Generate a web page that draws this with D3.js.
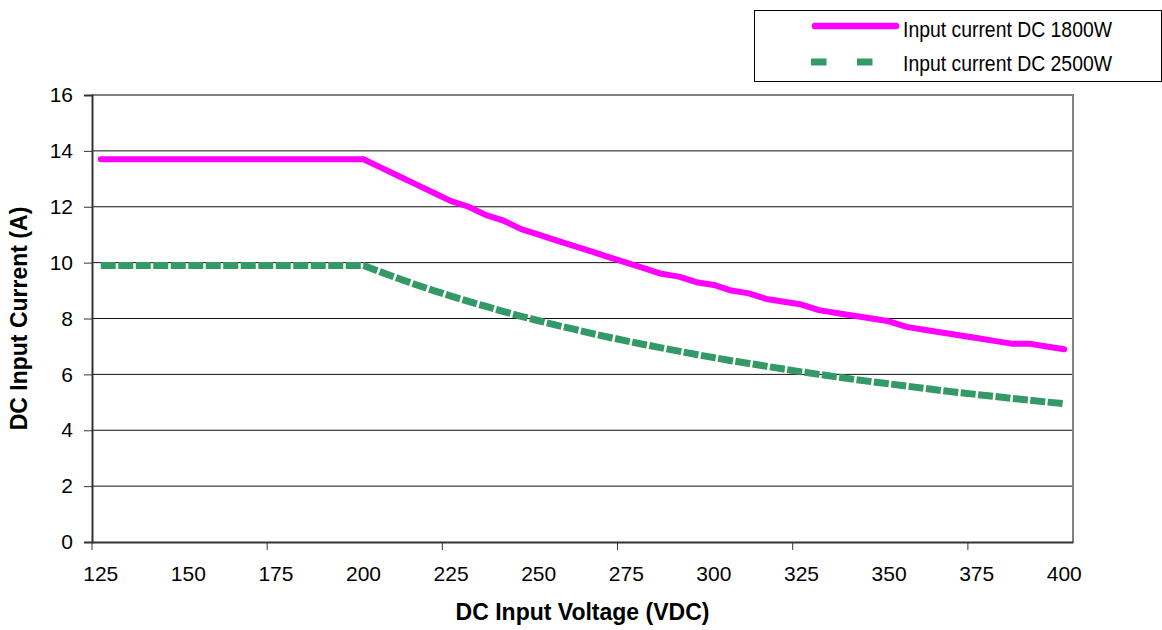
<!DOCTYPE html>
<html>
<head>
<meta charset="utf-8">
<script src="https://cdn.jsdelivr.net/npm/d3@7"></script>
<style>
  body { margin: 0; background: #fff; }
  svg { display: block; font-family: "Liberation Sans", Arial, sans-serif; }
</style>
</head>
<body>
<div id="chart"></div>
<script>
// categories (VDC), one every 5 V
const volts = [125, 130, 135, 140, 145, 150, 155, 160, 165, 170, 175, 180, 185, 190, 195, 200,
  205, 210, 215, 220, 225, 230, 235, 240, 245, 250, 255, 260, 265, 270, 275, 280, 285, 290, 295, 300,
  305, 310, 315, 320, 325, 330, 335, 340, 345, 350, 355, 360, 365, 370, 375, 380, 385, 390, 395, 400];

// Input current DC 1800W (A)
const current1800 = [13.7, 13.7, 13.7, 13.7, 13.7, 13.7, 13.7, 13.7, 13.7, 13.7, 13.7, 13.7, 13.7, 13.7, 13.7, 13.7,
  13.4, 13.1, 12.8, 12.5, 12.2, 12.0, 11.7, 11.5, 11.2, 11.0, 10.8, 10.6, 10.4, 10.2, 10.0, 9.8, 9.6, 9.5, 9.3, 9.2,
  9.0, 8.9, 8.7, 8.6, 8.5, 8.3, 8.2, 8.1, 8.0, 7.9, 7.7, 7.6, 7.5, 7.4, 7.3, 7.2, 7.1, 7.1, 7.0, 6.9];

// Input current DC 2500W (A)
const current2500 = [9.9, 9.9, 9.9, 9.9, 9.9, 9.9, 9.9, 9.9, 9.9, 9.9, 9.9, 9.9, 9.9, 9.9, 9.9, 9.9,
  9.66, 9.43, 9.21, 9.0, 8.8, 8.61, 8.43, 8.25, 8.08, 7.92, 7.76, 7.62, 7.47, 7.33, 7.2, 7.07, 6.95, 6.83, 6.71, 6.6,
  6.49, 6.39, 6.29, 6.19, 6.09, 6.0, 5.91, 5.82, 5.74, 5.66, 5.58, 5.5, 5.42, 5.35, 5.28, 5.21, 5.14, 5.08, 5.01, 4.95];

const xLabels = [125, 150, 175, 200, 225, 250, 275, 300, 325, 350, 375, 400];
const xTickMarks = [125, 175, 225, 275, 325, 375];
const yTicks = [0, 2, 4, 6, 8, 10, 12, 14, 16];

const width = 1162, height = 630;
const plot = { left: 92, right: 1073, top: 95, bottom: 542 };

const svg = d3.select("#chart").append("svg")
  .attr("width", width)
  .attr("height", height);

const x = d3.scaleBand().domain(volts).range([plot.left, plot.right]).padding(0);
const y = d3.scaleLinear().domain([0, 16]).range([plot.bottom, plot.top]);
const cx = v => x(v) + x.bandwidth() / 2;

// horizontal gridlines
svg.append("g")
  .selectAll("line")
  .data(yTicks.filter(t => t > 0 && t < 16))
  .join("line")
  .attr("x1", plot.left).attr("x2", plot.right)
  .attr("y1", d => y(d)).attr("y2", d => y(d))
  .attr("stroke", "#111")
  .attr("stroke-width", 1);

// plot area border (top / right)
svg.append("path")
  .attr("d", `M${plot.left},${plot.top}H${plot.right}V${plot.bottom}`)
  .attr("fill", "none")
  .attr("stroke", "#808080")
  .attr("stroke-width", 2);

// y axis
const yAxis = svg.append("g")
  .attr("transform", `translate(${plot.left},0)`)
  .call(d3.axisLeft(y).tickValues(yTicks).tickSize(8).tickPadding(11));
yAxis.select(".domain").attr("stroke", "#333").attr("stroke-width", 2);
yAxis.selectAll(".tick line").attr("stroke", "#333");
yAxis.selectAll("text").attr("font-size", 21).attr("fill", "#000")
  .style("font-family", "'Liberation Sans', Arial, sans-serif");

// x axis: labels centred on categories, tick marks between categories
const xAxis = svg.append("g")
  .attr("transform", `translate(0,${plot.bottom})`)
  .call(d3.axisBottom(x).tickValues(xLabels).tickSize(0).tickPadding(24));
xAxis.select(".domain").attr("stroke", "#333").attr("stroke-width", 2);
xAxis.selectAll("text").attr("font-size", 21).attr("fill", "#000")
  .style("font-family", "'Liberation Sans', Arial, sans-serif");

svg.append("g")
  .selectAll("line")
  .data(xTickMarks)
  .join("line")
  .attr("x1", d => x(d)).attr("x2", d => x(d))
  .attr("y1", plot.bottom).attr("y2", plot.bottom + 8)
  .attr("stroke", "#333")
  .attr("stroke-width", 1);

// lines
const line = d3.line()
  .x((d, i) => cx(volts[i]))
  .y(d => y(d));

svg.append("path")
  .datum(current2500)
  .attr("d", line)
  .attr("fill", "none")
  .attr("stroke", "#339966")
  .attr("stroke-width", 7)
  .attr("stroke-dasharray", "15,2.5");

svg.append("path")
  .datum(current1800)
  .attr("d", line)
  .attr("fill", "none")
  .attr("stroke", "#ff00ff")
  .attr("stroke-width", 6)
  .attr("stroke-linecap", "round")
  .attr("stroke-linejoin", "round");

// axis titles
svg.append("text")
  .attr("x", (plot.left + plot.right) / 2)
  .attr("y", 620)
  .attr("text-anchor", "middle")
  .attr("font-size", 23)
  .attr("font-weight", "bold")
  .text("DC Input Voltage (VDC)");

svg.append("text")
  .attr("transform", `translate(27,${(plot.top + plot.bottom) / 2}) rotate(-90)`)
  .attr("text-anchor", "middle")
  .attr("font-size", 23)
  .attr("font-weight", "bold")
  .text("DC Input Current (A)");

// legend
const legend = svg.append("g");
legend.append("rect")
  .attr("x", 754.5).attr("y", 10.5)
  .attr("width", 407).attr("height", 71)
  .attr("fill", "#fff")
  .attr("stroke", "#000")
  .attr("stroke-width", 1);

legend.append("line")
  .attr("x1", 815).attr("x2", 896)
  .attr("y1", 26).attr("y2", 26)
  .attr("stroke", "#ff00ff")
  .attr("stroke-width", 6.5)
  .attr("stroke-linecap", "round");

legend.append("line")
  .attr("x1", 811).attr("x2", 873)
  .attr("y1", 62).attr("y2", 62)
  .attr("stroke", "#339966")
  .attr("stroke-width", 7)
  .attr("stroke-dasharray", "15.5,30.5");

const legendNames = ["Input current DC 1800W", "Input current DC 2500W"];
legend.selectAll(".lt")
  .data(legendNames)
  .join("text")
  .attr("class", "lt")
  .attr("x", 903)
  .attr("y", (d, i) => 37 + i * 34)
  .attr("font-size", 22)
  .attr("textLength", 209)
  .attr("lengthAdjust", "spacingAndGlyphs")
  .style("font-family", "'Liberation Sans Narrow', 'Liberation Sans', Arial, sans-serif")
  .text(d => d);
</script>
</body>
</html>
